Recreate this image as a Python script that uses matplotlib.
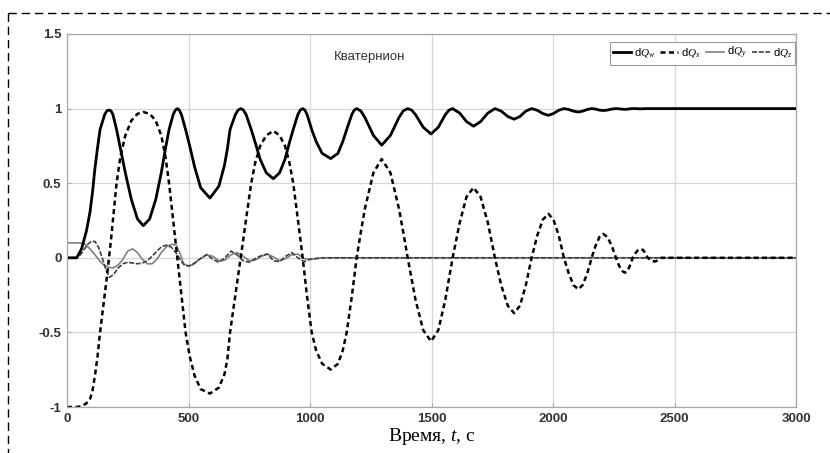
import numpy as np
import matplotlib
matplotlib.use('Agg')
import matplotlib.pyplot as plt
from matplotlib.lines import Line2D

plt.rcParams['font.family'] = ['Liberation Sans', 'DejaVu Sans']
plt.rcParams['mathtext.fontset'] = 'custom'
plt.rcParams['mathtext.it'] = 'Liberation Serif:italic'
plt.rcParams['mathtext.rm'] = 'Liberation Serif'

# Quaternion components (time in s)
t_main = [0, 40, 60, 80, 95, 105, 115, 125, 136, 155,
          164, 173, 181, 189, 204, 220, 240, 265, 290, 314,
          340, 365, 388, 405, 420, 437, 446, 454, 462, 471,
          488, 505, 525, 550, 588, 625, 648, 660, 671, 693,
          704, 715, 726, 737, 758, 775, 795, 820, 849, 875,
          897, 915, 931, 950, 960, 970, 979, 988, 1007, 1025,
          1050, 1085, 1115, 1135, 1151, 1172, 1182, 1192, 1209, 1226,
          1261, 1295, 1331, 1366, 1384, 1402, 1418, 1434, 1466, 1498,
          1528, 1557, 1572, 1587, 1616, 1644, 1673, 1702, 1732, 1761,
          1787, 1814, 1840, 1864, 1888, 1912, 1935, 1958, 1981, 2002,
          2024, 2045, 2065, 2084, 2104, 2122, 2141, 2159, 2175, 2191,
          2207, 2224, 2242, 2259, 2271, 2284, 2296, 2307, 2317, 2328,
          2339, 2350, 2361, 2371, 2380, 2390, 2405, 2420, 2433, 2445,
          2500, 3000]

dq_x = [-1.0, -1.0, -0.995, -0.975, -0.945, -0.89, -0.79, -0.67, -0.5, -0.25,
        -0.13, 0.0, 0.12, 0.25, 0.5, 0.68, 0.82, 0.92, 0.965, 0.977,
        0.965, 0.92, 0.82, 0.68, 0.5, 0.25, 0.12, 0.0, -0.12, -0.25,
        -0.5, -0.66, -0.79, -0.88, -0.91, -0.87, -0.78, -0.68, -0.5, -0.25,
        -0.13, 0.0, 0.13, 0.26, 0.5, 0.64, 0.75, 0.82, 0.851, 0.82,
        0.75, 0.64, 0.5, 0.26, 0.13, 0.0, -0.13, -0.26, -0.5, -0.62,
        -0.71, -0.749, -0.71, -0.62, -0.5, -0.26, -0.13, 0.0, 0.17, 0.33,
        0.57, 0.662, 0.57, 0.33, 0.17, 0.0, -0.14, -0.28, -0.485, -0.56,
        -0.485, -0.28, -0.14, 0.0, 0.235, 0.408, 0.471, 0.408, 0.235, 0.0,
        -0.185, -0.321, -0.371, -0.321, -0.185, 0.0, 0.148, 0.255, 0.295, 0.255,
        0.148, 0.0, -0.105, -0.183, -0.211, -0.183, -0.105, 0.0, 0.08, 0.139,
        0.16, 0.139, 0.08, 0.0, -0.05, -0.087, -0.10, -0.087, -0.05, 0.0,
        0.03, 0.052, 0.06, 0.052, 0.03, 0.0, -0.02, -0.025, -0.015, 0.0,
        0.0, 0.0]

dq_w = [0.0, 0.0, 0.06, 0.18, 0.31, 0.44, 0.6, 0.73, 0.86, 0.96,
        0.985, 0.99, 0.985, 0.96, 0.86, 0.73, 0.57, 0.39, 0.26, 0.215,
        0.26, 0.39, 0.57, 0.73, 0.86, 0.96, 0.99, 1.0, 0.99, 0.96,
        0.86, 0.75, 0.61, 0.47, 0.40, 0.48, 0.62, 0.73, 0.86, 0.96,
        0.99, 1.0, 0.99, 0.96, 0.86, 0.77, 0.66, 0.57, 0.53, 0.57,
        0.66, 0.77, 0.86, 0.96, 0.99, 1.0, 0.99, 0.96, 0.86, 0.78,
        0.70, 0.665, 0.70, 0.78, 0.86, 0.96, 0.99, 1.0, 0.985, 0.94,
        0.82, 0.755, 0.82, 0.94, 0.985, 1.0, 0.99, 0.96, 0.875, 0.83,
        0.875, 0.96, 0.99, 1.0, 0.97, 0.913, 0.882, 0.913, 0.97, 1.0,
        0.983, 0.947, 0.929, 0.947, 0.983, 1.0, 0.989, 0.967, 0.955, 0.967,
        0.989, 1.0, 0.994, 0.983, 0.977, 0.983, 0.994, 1.0, 0.997, 0.99,
        0.987, 0.99, 0.997, 1.0, 0.999, 0.996, 0.995, 0.996, 0.999, 1.0,
        1.0, 0.999, 0.998, 0.999, 1.0, 1.0, 1.0, 1.0, 1.0, 1.0,
        1.0, 1.0]

t_yz = [0, 40, 55, 70, 85, 100, 115, 130, 145, 160,
        175, 190, 210, 230, 250, 270, 290, 310, 330, 350,
        370, 390, 410, 430, 450, 465, 480, 500, 520, 545,
        575, 600, 625, 650, 675, 700, 725, 750, 775, 800,
        825, 850, 875, 900, 925, 950, 975, 1000, 1050, 1100,
        3000]

dq_y = [0.1, 0.1, 0.1, 0.095, 0.075, 0.05, 0.02, -0.01, -0.04, -0.055,
        -0.065, -0.067, -0.05, -0.01, 0.045, 0.06, 0.035, -0.01, -0.04, -0.04,
        -0.01, 0.04, 0.075, 0.09, 0.085, 0.03, -0.04, -0.055, -0.045, -0.01,
        0.02, 0.01, -0.02, -0.015, 0.02, 0.035, 0.01, -0.02, -0.015, 0.01,
        0.025, 0.005, -0.02, -0.005, 0.02, 0.025, -0.005, -0.01, 0.0, 0.0,
        0.0]

dq_z = [0.0, 0.0, 0.02, 0.055, 0.09, 0.11, 0.11, 0.07, 0.0, -0.08,
        -0.13, -0.115, -0.07, -0.04, -0.03, -0.035, -0.04, -0.035, -0.02, 0.01,
        0.045, 0.075, 0.085, 0.07, 0.03, -0.01, -0.045, -0.056, -0.04, -0.01,
        0.022, -0.01, -0.03, 0.0, 0.045, 0.02, -0.02, -0.03, -0.005, 0.015,
        0.025, -0.02, -0.025, 0.01, 0.035, 0.0, -0.025, -0.01, 0.0, 0.0,
        0.0]

x_ticks = [0, 500, 1000, 1500, 2000, 2500, 3000]
y_ticks = [-1, -0.5, 0, 0.5, 1, 1.5]
y_tick_labels = ['-1', '-0.5', '0', '0.5', '1', '1.5']
labels = ['d$Q_w$', 'd$Q_x$', 'd$Q_y$', 'd$Q_z$']

fig = plt.figure(figsize=(8.3, 4.53), dpi=100)
ax = fig.add_axes([67 / 830, 1 - 407 / 453, (796 - 67) / 830, (407 - 34) / 453])

ly, = ax.plot(t_yz, dq_y, color='#808080', lw=1.2)
lz, = ax.plot(t_yz, dq_z, color='#404040', lw=1.2, ls=(0, (3, 1)))
lx, = ax.plot(t_main, dq_x, color='black', lw=1.8, ls=(0, (2.0, 1.4)))
lw_, = ax.plot(t_main, dq_w, color='black', lw=2.0)

ax.set_xlim(0, 3000)
ax.set_ylim(-1, 1.5)
ax.set_xticks(x_ticks)
ax.set_xticklabels([str(v) for v in x_ticks])
ax.set_yticks(y_ticks)
ax.set_yticklabels(y_tick_labels)
ax.grid(True, color='#d6d6d6', lw=0.9)
ax.set_axisbelow(True)
for s in ax.spines.values():
    s.set_color('#a8a8a8')
    s.set_linewidth(0.9)
ax.tick_params(direction='in', length=3, color='#a8a8a8', labelsize=9.5,
               labelcolor='#333333', pad=4)
for lab in ax.get_xticklabels() + ax.get_yticklabels():
    lab.set_fontweight('bold')

ax.set_xlabel('Время, $t$, с', family='Liberation Serif', fontsize=14,
              labelpad=1)
ax.text(0.4156, 0.938, 'Кватернион', transform=ax.transAxes, ha='center',
        va='center', fontsize=9.5, color='#333333')

leg = ax.legend([lw_, lx, ly, lz], labels, ncol=4, loc='upper right',
                bbox_to_anchor=(0.9986, 0.9786), fontsize=8, frameon=True,
                fancybox=False, edgecolor='#999999', framealpha=1,
                borderpad=0.3, handlelength=1.6, handletextpad=0.25,
                columnspacing=0.5, borderaxespad=0)
leg.get_frame().set_linewidth(0.8)

# dashed frame around the figure
fig.add_artist(Line2D([8.3 / 830, 1.0], [1 - 12.5 / 453, 1 - 12.5 / 453],
                      transform=fig.transFigure, color='black', lw=1.0,
                      ls=(0, (6, 3.5))))
fig.add_artist(Line2D([8.3 / 830, 8.3 / 830], [1 - 12.5 / 453, 0.0],
                      transform=fig.transFigure, color='black', lw=1.0,
                      ls=(0, (6, 3.5))))

fig.savefig('out.png', dpi=100)
